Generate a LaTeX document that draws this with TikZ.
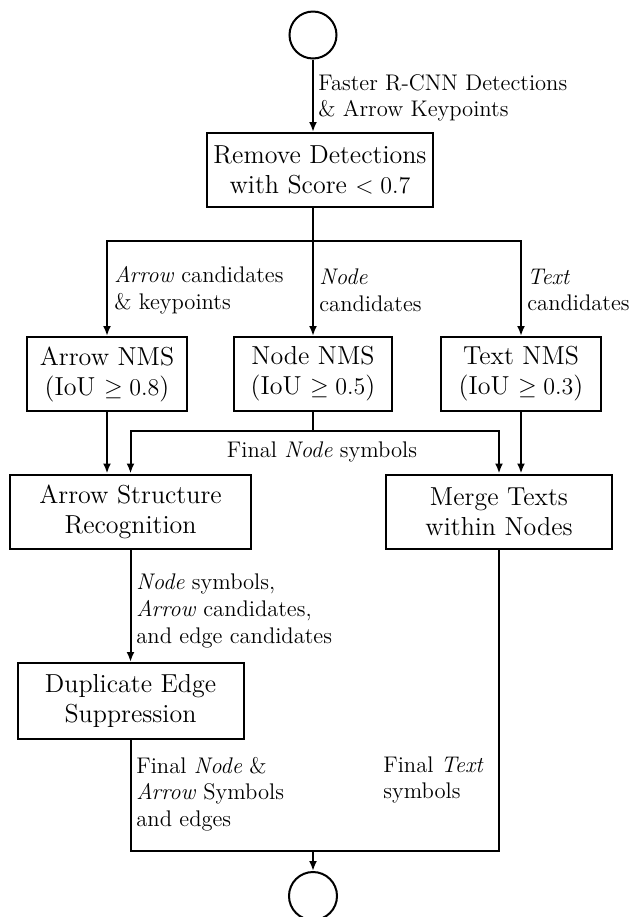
\documentclass[tikz,border=0pt]{standalone}
\usetikzlibrary{arrows.meta}
\tikzset{
  box/.style={draw, line width=1pt, align=center, minimum height=37pt, inner sep=2pt, font=\fontsize{13}{15}\selectfont},
  term/.style={draw, circle, line width=1pt, minimum size=23.5pt, inner sep=0pt},
  lbl/.style={align=left, anchor=west, inner sep=0pt, font=\fontsize{11.3}{13.3}\selectfont},
  flow/.style={line width=1pt, -{Latex[length=5pt,width=4pt]}},
  link/.style={line width=1pt}
}
\begin{document}
\begin{tikzpicture}[x=0.5pt,y=-0.5pt]
	\useasboundingbox (0,0) rectangle (630,917);
	\node[term] (start) at (313,35) {};
	\node[box, minimum width=113pt] (remove) at (320,170) {Remove Detections\\with Score $< 0.7$};
	\node[box, minimum width=80pt] (arrownms) at (107,374) {Arrow NMS\\(IoU $\geq 0.8$)};
	\node[box, minimum width=79pt] (nodenms) at (313,374) {Node NMS\\(IoU $\geq 0.5$)};
	\node[box, minimum width=80pt] (textnms) at (521,374) {Text NMS\\(IoU $\geq 0.3$)};
	\node[box, minimum width=120.5pt] (asr) at (130.5,511.5) {Arrow Structure\\Recognition};
	\node[box, minimum width=113pt] (merge) at (499,511.5) {Merge Texts\\within Nodes};
	\node[box, minimum width=113pt, minimum height=38pt] (dup) at (130.5,701) {Duplicate Edge\\Suppression};
	\node[term, minimum size=24pt] (end) at (313,896) {};
	\coordinate (split) at (313,241);
	\coordinate (fnode) at (313,431);
	\coordinate (join) at (313,851);
	\draw[flow] (start) -- (start |- remove.north);
	\draw[link] (split |- remove.south) -- (split);
	\draw[flow] (split) -| (arrownms);
	\draw[flow] (split) -| (textnms);
	\draw[flow] (split) -- (nodenms);
	\draw[flow] (arrownms) -- (arrownms |- asr.north);
	\draw[link] (nodenms) -- (fnode);
	\draw[flow] (fnode) -| (asr);
	\draw[flow] (fnode) -| (merge);
	\draw[flow] (textnms) -- (textnms |- merge.north);
	\draw[flow] (asr) -- (dup);
	\draw[link] (dup) |- (join);
	\draw[link] (merge) |- (join);
	\draw[flow] (join) -- (end);
	\node[lbl] (lfaster) at (318,98) {Faster R-CNN Detections\\\& Arrow Keypoints};
	\node[lbl] (larrow) at (114,290) {\textit{Arrow} candidates\\\& keypoints};
	\node[lbl] (lnode) at (319,290) {\textit{Node}\\candidates};
	\node[lbl] (ltext) at (527,290) {\textit{Text}\\candidates};
	\node[lbl, anchor=center] (lfinalnode) at (322,452) {Final \textit{Node} symbols};
	\node[lbl] (lsymbols) at (136,611) {\textit{Node} symbols,\\\textit{Arrow} candidates,\\and edge candidates};
	\node[lbl] (lfinaledges) at (136,794) {Final \textit{Node} \&\\\textit{Arrow} Symbols\\and edges};
	\node[lbl] (lfinaltext) at (383,780) {Final \textit{Text}\\symbols};
\end{tikzpicture}
\end{document}
